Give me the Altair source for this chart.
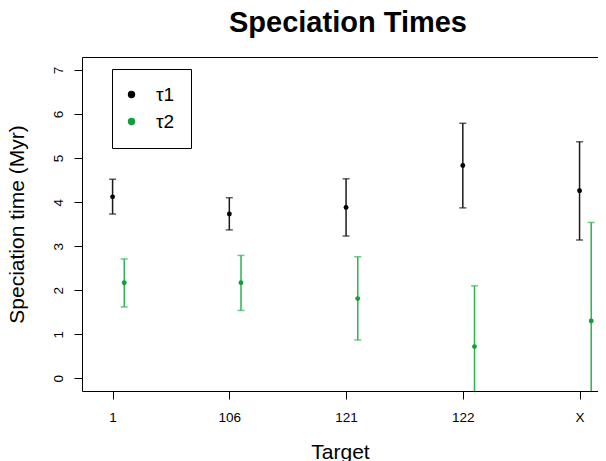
import json
import altair as alt
import pandas as pd

# ---- data ----
targets = ["1", "106", "121", "122", "X"]
series_names = ["τ1", "τ2"]
tau1_mean = [4.12, 3.73, 3.88, 4.83, 4.26]
tau1_lo = [3.73, 3.37, 3.23, 3.87, 3.14]
tau1_hi = [4.52, 4.10, 4.53, 5.79, 5.37]
tau2_mean = [2.17, 2.17, 1.81, 0.72, 1.30]
tau2_lo = [1.62, 1.54, 0.87, -0.66, -0.94]
tau2_hi = [2.71, 2.79, 2.76, 2.10, 3.54]
y_ticks = [0, 1, 2, 3, 4, 5, 6, 7]

rows = []
for i, t in enumerate(targets):
    rows.append(dict(target=t, series=series_names[0], pos=i + 1,
                     mean=tau1_mean[i], lo=tau1_lo[i], hi=tau1_hi[i]))
    rows.append(dict(target=t, series=series_names[1], pos=i + 1.1,
                     mean=tau2_mean[i], lo=tau2_lo[i], hi=tau2_hi[i]))
df = pd.DataFrame(rows)

FONT = "Liberation Sans"
point_colors = ["#000000", "#119f3d"]
bar_colors = ["#1a1a1a", "#2cb552"]

x_scale = alt.Scale(domain=[0.738, 5.158], nice=False, zero=False)
y_scale = alt.Scale(domain=[-0.288, 7.295], nice=False, zero=False)

y_axis = alt.Axis(
    values=y_ticks, title="Speciation time (Myr)", grid=False,
    domainColor="black", domainWidth=1, tickColor="black", tickWidth=1, tickSize=8,
    labelAngle=-90, labelAlign="center", labelBaseline="bottom", labelPadding=9,
    labelFont=FONT, labelFontSize=13.5, labelColor="black",
    titleFont=FONT, titleFontSize=21, titleFontWeight="normal", titleColor="black",
    titlePadding=24,
)
x_axis = alt.Axis(
    values=list(range(1, len(targets) + 1)),
    labelExpr="{}[datum.value - 1]".format(json.dumps(targets)),
    title="Target", grid=False,
    domainColor="black", domainWidth=1, tickColor="black", tickWidth=1, tickSize=8,
    labelPadding=11, labelFont=FONT, labelFontSize=13.5, labelColor="black",
    labelAngle=0, labelBaseline="top",
    titleFont=FONT, titleFontSize=21, titleFontWeight="normal", titleColor="black",
    titlePadding=18,
)
x_top_axis = alt.Axis(orient="top", labels=False, ticks=False, title=None, grid=False,
                      domainColor="black", domainWidth=1)

bar_color = alt.Color("series:N", scale=alt.Scale(domain=series_names, range=bar_colors),
                      legend=None)

base = alt.Chart(df)

rules = base.mark_rule(strokeWidth=1.5, clip=True).encode(
    x=alt.X("pos:Q", scale=x_scale, axis=None),
    y=alt.Y("lo:Q", scale=y_scale, axis=y_axis),
    y2="hi:Q",
    color=bar_color,
)
caps_lo = base.mark_tick(orient="horizontal", size=7, thickness=1.5, clip=True).encode(
    x=alt.X("pos:Q", scale=x_scale, axis=None),
    y=alt.Y("lo:Q", scale=y_scale, axis=y_axis),
    color=bar_color,
)
caps_hi = base.mark_tick(orient="horizontal", size=7, thickness=1.5, clip=True).encode(
    x=alt.X("pos:Q", scale=x_scale, axis=None),
    y=alt.Y("hi:Q", scale=y_scale, axis=y_axis),
    color=bar_color,
)
points = base.mark_circle(size=24, opacity=1).encode(
    x=alt.X("pos:Q", scale=x_scale, axis=x_axis),
    y=alt.Y("mean:Q", scale=y_scale, axis=y_axis),
    color=alt.Color("series:N", scale=alt.Scale(domain=series_names, range=point_colors),
                    legend=alt.Legend(title=None, orient="none", legendX=30, legendY=12,
                                      strokeColor="black", fillColor="white",
                                      padding=16, symbolType="circle", symbolSize=55,
                                      symbolOffset=-6,
                                      symbolStrokeWidth=0, labelFont=FONT, labelFontSize=19,
                                      labelColor="black", labelOffset=15, rowPadding=7,
                                      cornerRadius=0)),
)
frame_top = base.mark_point(opacity=0).encode(
    x=alt.X("pos:Q", scale=x_scale, axis=x_top_axis),
    y=alt.Y("mean:Q", scale=y_scale, axis=y_axis),
)

chart = alt.layer(rules, caps_lo, caps_hi, points, frame_top).resolve_scale(
    color="independent"
).resolve_axis(x="independent").properties(
    width=516, height=334,
    autosize=alt.AutoSizeParams(type="none"),
    padding={"left": 74, "top": 49, "right": 0, "bottom": 70},
    title=alt.TitleParams("Speciation Times", font=FONT, fontSize=29, fontWeight="bold",
                          color="black", anchor="middle", baseline="alphabetic",
                          offset=25, dx=8, dy=29),
).configure_view(stroke=None).configure(background="white").configure_legend(strokeWidth=1)

chart.save("out.html", embed_options={"renderer": "svg", "actions": False})
